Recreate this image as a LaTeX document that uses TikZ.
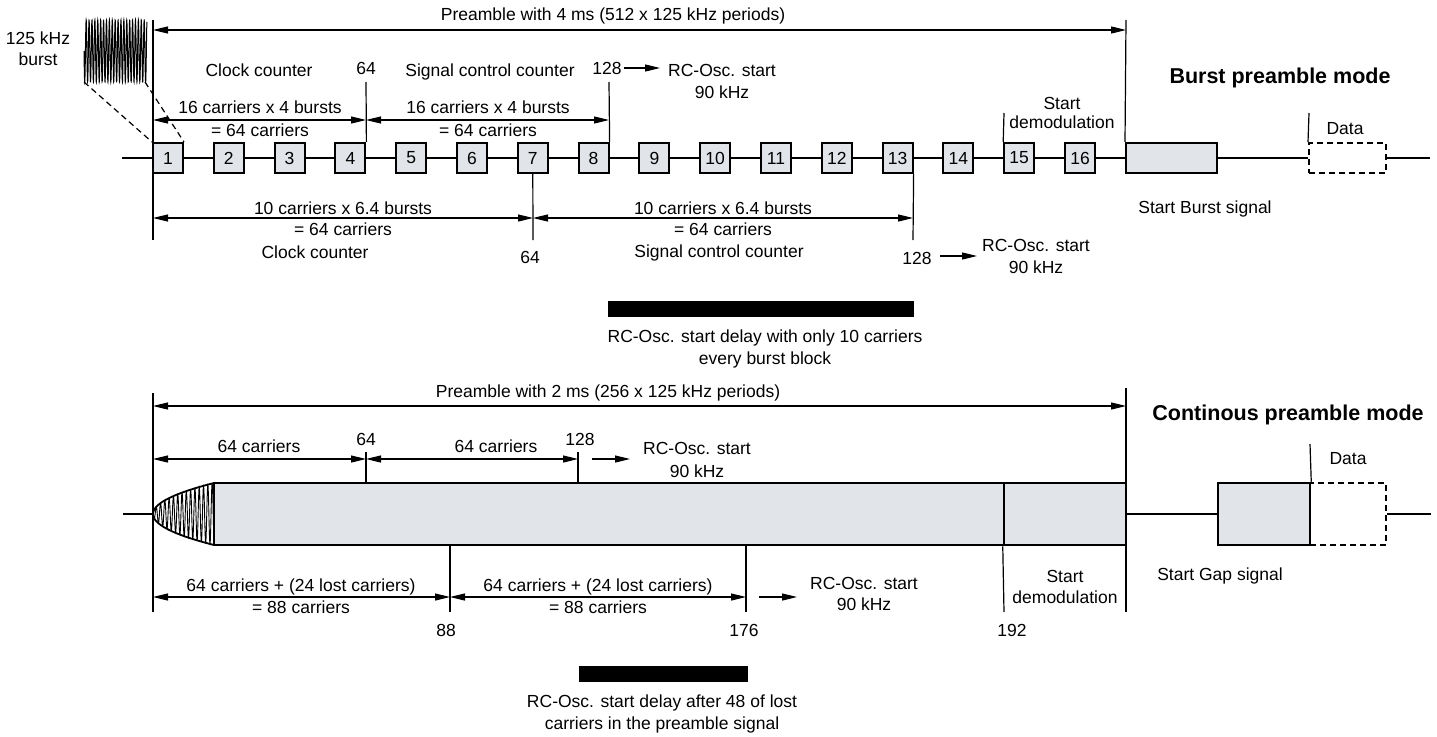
\documentclass[tikz,border=0pt]{standalone}
\usepackage{fontspec}
\setmainfont{Liberation Sans}
\usetikzlibrary{arrows.meta}
\definecolor{boxgray}{RGB}{225,228,233}
\begin{document}
\begin{tikzpicture}[x=1pt,y=-1pt,
  font=\fontsize{17.5}{22}\selectfont,
  line width=1.2pt,
  lbl/.style={inner sep=0pt, anchor=base},
  ttl/.style={inner sep=0pt, anchor=base, font=\fontsize{21.5}{26}\selectfont\bfseries},
  dim/.style={{Triangle[length=15pt,width=7pt]}-{Triangle[length=15pt,width=7pt]}},
  rarr/.style={-{Triangle[length=15pt,width=7pt]}},
  sbox/.style={draw, line width=2pt, fill=boxgray, minimum width=30pt, minimum height=30pt, inner sep=0pt},
  bigbox/.style={draw, line width=2.5pt, fill=boxgray, minimum height=62pt, inner sep=0pt},
  dbox/.style={draw, line width=2pt, dash pattern=on 6pt off 4pt, inner sep=0pt},
  dline/.style={line width=1.2pt, dash pattern=on 6pt off 4pt},
  bar/.style={fill=black, draw=none}]
\useasboundingbox (0,0) rectangle (1437,736);

% ================= TOP: burst preamble mode =================
\node[lbl] (tTitle) at (613,20) {Preamble with 4 ms (512 x 125 kHz periods)};
\coordinate (tL) at (153,30); \coordinate (tR) at (1126,30);
\draw[dim] (tL) -- (tR);
\coordinate (vL1) at (153,20); \coordinate (vL2) at (153,240);
\draw (vL1) -- (vL2);

\node[lbl] (bk1) at (38,44) {125 kHz};
\node[lbl] (bk2) at (38,65) {burst};
\draw[line width=1pt] plot[domain=0:21.7, samples=700] ({84+2.9*\x},{51+31*sin(\x*360)});
\coordinate (bw1) at (84,82); \coordinate (bw2) at (145,82);

% boxes
\foreach \i in {1,...,16} \node[sbox] (b\i) at ({168+(\i-1)*60.8},158) {\i};
\coordinate (sigL) at (122,158);
\draw (sigL) -- (b1.west);
\foreach \i [evaluate=\i as \j using int(\i+1)] in {1,...,15} \draw (b\i.east) -- (b\j.west);
\node[sbox, minimum width=91pt] (sb) at (1171.5,158) {};
\draw (b16.east) -- (sb.west);
\node[dbox, minimum width=77pt, minimum height=30pt] (d1) at (1347.5,158) {};
\coordinate (sigR) at (1430,158);
\draw (sb.east) -- (d1.west);
\draw (d1.east) -- (sigR);
\coordinate (vR1) at (1126,20);
\draw (vR1) -- (sb.north west);
\coordinate (d1t) at (1309,113);
\draw (d1t) -- (d1.north west);
\node[lbl] (dl1) at (1345,134) {Data};
\node[ttl] (mode1) at (1280,83) {Burst preamble mode};
\node[lbl] (sbs) at (1205,213) {Start Burst signal};

\draw[dline] (bw1) -- (b1.north west);
\draw[dline] (bw2) -- (b1.north east);

% upper counters
\node[lbl] (cc1) at (259,76) {Clock counter};
\node[lbl] (n64a) at (366,74) {64};
\node[lbl] (scc1) at (490,76) {Signal control counter};
\node[lbl] (n128a) at (607,74) {128};
\coordinate (ra1) at (624,68); \coordinate (ra2) at (660,68);
\draw[rarr] (ra1) -- (ra2);
\node[lbl] (rc1) at (722,76) {RC-Osc. start};
\node[lbl] (rc1b) at (722,98) {90 kHz};
\coordinate (t64) at (366,82); \coordinate (t128) at (609,82);
\draw (t64) -- (b4.north east);
\draw (t128) -- (b8.north east);
\coordinate (u1) at (153,120); \coordinate (u2) at (366,120); \coordinate (u3) at (609,120);
\draw[dim] (u1) -- (u2);
\draw[dim] (u2) -- (u3);
\node[lbl] (u1t) at (260,113) {16 carriers x 4 bursts};
\node[lbl] (u1b) at (260,136) {= 64 carriers};
\node[lbl] (u2t) at (488,113) {16 carriers x 4 bursts};
\node[lbl] (u2b) at (488,136) {= 64 carriers};

\coordinate (sd1) at (1004,113);
\draw (sd1) -- (b15.north west);
\node[lbl] (sd1a) at (1062,109) {Start};
\node[lbl] (sd1b) at (1062,128) {demodulation};

% lower counters
\coordinate (l64) at (533,240); \coordinate (l128) at (913,240);
\draw (b7.south) -- (l64);
\draw (b13.south east) -- (l128);
\coordinate (w1) at (153,218); \coordinate (w2) at (533,218); \coordinate (w3) at (913,218);
\draw[dim] (w1) -- (w2);
\draw[dim] (w2) -- (w3);
\node[lbl] (w1t) at (343,214) {10 carriers x 6.4 bursts};
\node[lbl] (w1b) at (343,235) {= 64 carriers};
\node[lbl] (w2t) at (723,214) {10 carriers x 6.4 bursts};
\node[lbl] (w2b) at (723,235) {= 64 carriers};
\node[lbl] (cc2) at (315,258) {Clock counter};
\node[lbl] (scc2) at (719,257) {Signal control counter};
\node[lbl] (n64b) at (530,263) {64};
\node[lbl] (n128b) at (917,264) {128};
\coordinate (rb1) at (940,256); \coordinate (rb2) at (977,256);
\draw[rarr] (rb1) -- (rb2);
\node[lbl] (rc2) at (1036,251) {RC-Osc. start};
\node[lbl] (rc2b) at (1036,273) {90 kHz};
\path[bar] (608,301) rectangle (914,317);
\node[lbl] (dl1a) at (765,342) {RC-Osc. start delay with only 10 carriers};
\node[lbl] (dl1b) at (765,364) {every burst block};

% ================= BOTTOM: continous preamble mode =================
\node[lbl] (bTitle) at (608,397) {Preamble with 2 ms (256 x 125 kHz periods)};
\coordinate (pL) at (153,406); \coordinate (pR) at (1126,406);
\draw[dim] (pL) -- (pR);
\coordinate (vL3) at (153,393); \coordinate (vL4) at (153,612);
\draw (vL3) -- (vL4);
\node[ttl] (mode2) at (1288,420) {Continous preamble mode};

\node[bigbox, minimum width=790pt] (bigA) at (609,514) {};
\node[bigbox, minimum width=122pt] (bigB) at (1065,514) {};
\coordinate (vR3) at (1126,388); \coordinate (vR4) at (1126,612);
\draw (vR3) -- (vR4);
% ramp-up waveform
\draw[line width=0.9pt] plot[domain=0:14.2, samples=500] ({153+4.3*\x},{514+31*sqrt(4.3*\x/61)*sin(\x*360)});
\draw[line width=1.8pt] plot[domain=-1:1, samples=60, smooth] ({153+61*\x*\x},{514+31*\x});
\coordinate (sig2L) at (123,514); \coordinate (wtip) at (153,514);
\draw (sig2L) -- (wtip);

\node[bigbox, minimum width=92pt] (gap) at (1264,514) {};
\draw (bigB.east) -- (gap.west);
\node[dbox, minimum width=76pt, minimum height=62pt] (d2) at (1348,514) {};
\coordinate (sig2R) at (1431,514);
\draw (d2.east) -- (sig2R);
\coordinate (d2t) at (1310,444);
\draw (d2t) -- (gap.north east);
\node[lbl] (dl2) at (1348,464) {Data};
\node[lbl] (sgs) at (1220,580) {Start Gap signal};

% upper counters bottom
\node[lbl] (c64a) at (259,452) {64 carriers};
\node[lbl] (c64b) at (496,452) {64 carriers};
\node[lbl] (m64) at (366,445) {64};
\node[lbl] (m128) at (580,445) {128};
\coordinate (p64) at (366,452); \coordinate (p128) at (578,452);
\draw (p64) -- (p64 |- bigA.north);
\draw (p128) -- (p128 |- bigA.north);
\coordinate (q1) at (153,459); \coordinate (q2) at (366,459); \coordinate (q3) at (578,459);
\draw[dim] (q1) -- (q2);
\draw[dim] (q2) -- (q3);
\coordinate (rc1) at (592,459); \coordinate (rc2) at (630,459);
\draw[rarr] (rc1) -- (rc2);
\node[lbl] (rc3) at (697,454) {RC-Osc. start};
\node[lbl] (rc3b) at (697,477) {90 kHz};

% lower counters bottom
\coordinate (k88) at (450,612); \coordinate (k176) at (746,612); \coordinate (k192) at (1004,612);
\draw (k88 |- bigA.south) -- (k88);
\draw (k176 |- bigA.south) -- (k176);
\draw (bigB.south west) -- (k192);
\coordinate (s1) at (153,597); \coordinate (s2) at (450,597); \coordinate (s3) at (746,597);
\draw[dim] (s1) -- (s2);
\draw[dim] (s2) -- (s3);
\node[lbl] (s1t) at (301,591) {64 carriers + (24 lost carriers)};
\node[lbl] (s1b) at (301,613) {= 88 carriers};
\node[lbl] (s2t) at (598,591) {64 carriers + (24 lost carriers)};
\node[lbl] (s2b) at (598,613) {= 88 carriers};
\coordinate (rd1) at (759,597); \coordinate (rd2) at (797,597);
\draw[rarr] (rd1) -- (rd2);
\node[lbl] (rc4) at (864,589) {RC-Osc. start};
\node[lbl] (rc4b) at (864,610) {90 kHz};
\node[lbl] (sd2a) at (1065,582) {Start};
\node[lbl] (sd2b) at (1065,603) {demodulation};
\node[lbl] (n88) at (446,636) {88};
\node[lbl] (n176) at (744,636) {176};
\node[lbl] (n192) at (1012,636) {192};
\path[bar] (579,666) rectangle (748,682);
\node[lbl] (dl2a) at (662,707) {RC-Osc. start delay after 48 of lost};
\node[lbl] (dl2b) at (662,729) {carriers in the preamble signal};
\end{tikzpicture}
\end{document}
